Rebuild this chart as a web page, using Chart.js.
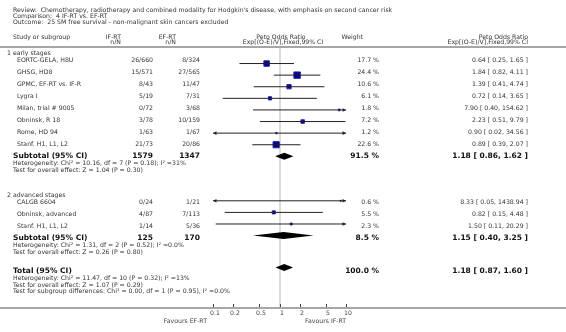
<!DOCTYPE html>
<html lang="en">
<head>
<meta charset="UTF-8">
<title>IF-RT vs EF-RT - SM free survival</title>
<script src="https://cdn.jsdelivr.net/npm/chart.js"></script>
<style>
  body { margin: 0; background: #fff; }
</style>
</head>
<body>
<canvas id="forest" width="566" height="332"></canvas>
<script>
// ---- data ----
const titleLines = [
  "Review:  Chemotherapy, radiotherapy and combined modality for Hodgkin's disease, with emphasis on second cancer risk",
  "Comparison:  4 IF-RT vs. EF-RT",
  "Outcome:  25 SM free survival - non-malignant skin cancers excluded"
];

const groupNames = ['1 early stages', '2 advanced stages'];
const studyNames = [
  ['EORTC-GELA, H8U', 'GHSG, HD8', 'GPMC, EF-RT vs. IF-R', 'Lygra I', 'Milan, trial # 9005', 'Obninsk, R 18', 'Rome, HD 94', 'Stanf. H1, L1, L2'],
  ['CALGB 6604', 'Obninsk, advanced', 'Stanf. H1, L1, L2']
];
const ifrtCounts = [
  ['26/660', '15/571', '8/43', '5/19', '0/72', '3/78', '1/63', '21/73'],
  ['0/24', '4/87', '1/14']
];
const efrtCounts = [
  ['8/324', '27/565', '11/47', '7/31', '3/68', '10/159', '1/67', '20/86'],
  ['1/21', '7/113', '5/36']
];
const oddsRatio = [[0.64, 1.84, 1.39, 0.72, 7.90, 2.23, 0.90, 0.89], [8.33, 0.82, 1.50]];
const ciLow     = [[0.25, 0.82, 0.41, 0.14, 0.40, 0.51, 0.02, 0.39], [0.05, 0.15, 0.11]];
const ciHigh    = [[1.65, 4.11, 4.74, 3.65, 154.62, 9.79, 34.56, 2.07], [1438.94, 4.48, 20.29]];
const weights   = [[17.7, 24.4, 10.6, 6.1, 1.8, 7.2, 1.2, 22.6], [0.6, 5.5, 2.3]];

const subtotalIfrt = [1579, 125];
const subtotalEfrt = [1347, 170];
const subtotalOR = [1.18, 1.15];
const subtotalLow = [0.86, 0.40];
const subtotalHigh = [1.62, 3.25];
const subtotalWeight = [91.5, 8.5];
const subtotalNotes = [
  ['Heterogeneity: Chi\u00b2 = 10.16, df = 7 (P = 0.18); I\u00b2 =31%', 'Test for overall effect: Z = 1.04 (P = 0.30)'],
  ['Heterogeneity: Chi\u00b2 = 1.31, df = 2 (P = 0.52); I\u00b2 =0.0%', 'Test for overall effect: Z = 0.26 (P = 0.80)']
];

const totalOR = 1.18, totalLow = 0.87, totalHigh = 1.60, totalWeight = 100.0;
const totalNotes = [
  'Heterogeneity: Chi\u00b2 = 11.47, df = 10 (P = 0.32); I\u00b2 =13%',
  'Test for overall effect: Z = 1.07 (P = 0.29)',
  'Test for subgroup differences: Chi\u00b2 = 0.00, df = 1 (P = 0.95), I\u00b2 =0.0%'
];

const axisTicks = [0.1, 0.2, 0.5, 1, 2, 5, 10];
const favoursLeft = 'Favours EF-RT';
const favoursRight = 'Favours IF-RT';

// ---- row layout (y in canvas pixels) ----
const studyRows = [];
const groupRows = [];
const subtotalRows = [];
let yy = 53;
groupNames.forEach((g, gi) => {
  groupRows.push(yy);
  yy += 7;
  studyRows.push(studyNames[gi].map(() => { const r = yy; yy += 12; return r; }));
  subtotalRows.push(yy);
  yy += 39;
});
const totalRow = subtotalRows[1] + 33;

const FONT = '"DejaVu Sans", Verdana, sans-serif';
const small = '6.2px ' + FONT;
const bold = 'bold 7.5px ' + FONT;
const ifrtRight = 153, efrtRight = 200, weightRight = 379, resultRight = 528;

function fmtCI(or, lo, hi) {
  return or.toFixed(2) + ' [ ' + lo.toFixed(2) + ', ' + hi.toFixed(2) + ' ]';
}

// one line dataset per confidence interval
const ciSets = [];
const squares = [];
groupNames.forEach((g, gi) => {
  studyNames[gi].forEach((s, si) => {
    const y = studyRows[gi][si];
    ciSets.push({
      type: 'scatter',
      showLine: true,
      data: [{ x: ciLow[gi][si], y: y }, { x: ciHigh[gi][si], y: y }],
      borderColor: '#222',
      borderWidth: 1,
      pointRadius: 0,
      clip: 0
    });
    squares.push({ x: oddsRatio[gi][si], y: y, w: weights[gi][si] });
  });
});

const forestPlugin = {
  id: 'forestPlugin',
  beforeDatasetsDraw(chart) {
    const ctx = chart.ctx, x = chart.scales.x;
    const px = Math.round(x.getPixelForValue(1));
    ctx.save();
    ctx.fillStyle = '#dcdcdc';
    ctx.fillRect(px - 1, 48, 2, 260);
    ctx.restore();
  },
  afterDatasetsDraw(chart) {
    const ctx = chart.ctx, x = chart.scales.x, ys = chart.scales.y;
    const W = chart.width;
    ctx.save();

    // arrows for intervals running off the scale
    ctx.fillStyle = '#222';
    groupNames.forEach((g, gi) => {
      studyNames[gi].forEach((s, si) => {
        const py = ys.getPixelForValue(studyRows[gi][si]);
        if (ciLow[gi][si] < x.min) {
          const l = x.left;
          ctx.beginPath(); ctx.moveTo(l, py); ctx.lineTo(l + 3.5, py - 1.8); ctx.lineTo(l + 3.5, py + 1.8); ctx.closePath(); ctx.fill();
        }
        if (ciHigh[gi][si] > x.max) {
          const r = x.right;
          ctx.beginPath(); ctx.moveTo(r, py); ctx.lineTo(r - 3.5, py - 1.8); ctx.lineTo(r - 3.5, py + 1.8); ctx.closePath(); ctx.fill();
        }
      });
    });

    // diamonds
    function diamond(or, lo, hi, row) {
      const py = ys.getPixelForValue(row);
      ctx.fillStyle = '#000';
      ctx.beginPath();
      ctx.moveTo(x.getPixelForValue(lo), py);
      ctx.lineTo(x.getPixelForValue(or), py - 3.5);
      ctx.lineTo(x.getPixelForValue(hi), py);
      ctx.lineTo(x.getPixelForValue(or), py + 3.5);
      ctx.closePath();
      ctx.fill();
    }
    subtotalOR.forEach((or, gi) => diamond(or, subtotalLow[gi], subtotalHigh[gi], subtotalRows[gi]));
    diamond(totalOR, totalLow, totalHigh, totalRow);

    // rules
    ctx.fillStyle = '#a6a6a6';
    ctx.fillRect(0, 46, W, 2);
    ctx.fillRect(0, 307, W, 2);

    // axis ticks and labels
    ctx.fillStyle = '#444';
    ctx.strokeStyle = '#444';
    ctx.lineWidth = 1;
    ctx.font = small;
    ctx.textAlign = 'center';
    ctx.textBaseline = 'middle';
    axisTicks.forEach(t => {
      const px = Math.round(x.getPixelForValue(t)) + 0.5;
      ctx.beginPath(); ctx.moveTo(px, 304); ctx.lineTo(px, 307); ctx.stroke();
      ctx.fillText(String(t), px + 1.5, 313);
    });
    ctx.textAlign = 'right';
    ctx.fillText(favoursLeft, 207, 321);
    ctx.textAlign = 'left';
    ctx.fillText(favoursRight, 305, 321);

    // title block
    ctx.fillStyle = '#333';
    titleLines.forEach((t, i) => ctx.fillText(t, 13, 10.5 + i * 6));

    // column headers
    ctx.fillText('Study or subgroup', 13, 37);
    ctx.textAlign = 'right';
    ctx.fillText('IF-RT', 121, 37); ctx.fillText('n/N', 121, 42.5);
    ctx.fillText('EF-RT', 176, 37); ctx.fillText('n/N', 176, 42.5);
    ctx.fillText('Weight', 363, 37);
    ctx.fillText('Peto Odds Ratio', resultRight, 37);
    ctx.fillText('Exp[(O-E)/V],Fixed,99% CI', resultRight, 42.5);
    ctx.textAlign = 'center';
    ctx.fillText('Peto Odds Ratio', 281, 37);
    ctx.fillText('Exp[(O-E)/V],Fixed,99% CI', 283, 42.5);

    // body text
    groupNames.forEach((g, gi) => {
      ctx.font = small;
      ctx.fillStyle = '#333';
      ctx.textAlign = 'left';
      ctx.fillText(g, 7, groupRows[gi]);
      studyNames[gi].forEach((s, si) => {
        const py = studyRows[gi][si];
        ctx.textAlign = 'left';
        ctx.fillText(s, 17, py);
        ctx.textAlign = 'right';
        ctx.fillText(ifrtCounts[gi][si], ifrtRight, py);
        ctx.fillText(efrtCounts[gi][si], efrtRight, py);
        ctx.fillText(weights[gi][si].toFixed(1) + ' %', weightRight, py);
        ctx.fillText(fmtCI(oddsRatio[gi][si], ciLow[gi][si], ciHigh[gi][si]), resultRight, py);
      });
      const sy = subtotalRows[gi];
      ctx.font = bold;
      ctx.fillStyle = '#111';
      ctx.textAlign = 'left';
      ctx.fillText('Subtotal (95% CI)', 13, sy);
      ctx.textAlign = 'right';
      ctx.fillText(String(subtotalIfrt[gi]), ifrtRight, sy);
      ctx.fillText(String(subtotalEfrt[gi]), efrtRight, sy);
      ctx.fillText(subtotalWeight[gi].toFixed(1) + ' %', weightRight, sy);
      ctx.fillText(fmtCI(subtotalOR[gi], subtotalLow[gi], subtotalHigh[gi]), resultRight, sy);
      ctx.font = small;
      ctx.fillStyle = '#333';
      ctx.textAlign = 'left';
      subtotalNotes[gi].forEach((n, i) => ctx.fillText(n, 13, sy + 7.5 + i * 6.5));
    });

    ctx.font = bold;
    ctx.fillStyle = '#111';
    ctx.textAlign = 'left';
    ctx.fillText('Total (95% CI)', 13, totalRow);
    ctx.textAlign = 'right';
    ctx.fillText(totalWeight.toFixed(1) + ' %', weightRight, totalRow);
    ctx.fillText(fmtCI(totalOR, totalLow, totalHigh), resultRight, totalRow);
    ctx.font = small;
    ctx.fillStyle = '#333';
    ctx.textAlign = 'left';
    totalNotes.forEach((n, i) => ctx.fillText(n, 13, totalRow + 7.5 + i * 6.5));

    ctx.restore();
  }
};

new Chart(document.getElementById('forest'), {
  type: 'scatter',
  data: {
    datasets: [
      ...ciSets,
      {
        type: 'scatter',
        data: squares,
        pointStyle: 'rect',
        pointRadius: c => 0.92 * Math.sqrt(c.raw.w),
        backgroundColor: '#00008b',
        borderColor: '#2020b8',
        borderWidth: 1,
        clip: 0
      }
    ]
  },
  options: {
    responsive: false,
    animation: false,
    events: [],
    layout: { padding: { left: 213, right: 220, top: 0, bottom: 0 } },
    plugins: { legend: { display: false }, tooltip: { enabled: false } },
    scales: {
      x: { type: 'logarithmic', min: 0.1, max: 10, display: false },
      y: { type: 'linear', min: 0, max: 332, reverse: true, display: false }
    }
  },
  plugins: [forestPlugin]
});
</script>
</body>
</html>
